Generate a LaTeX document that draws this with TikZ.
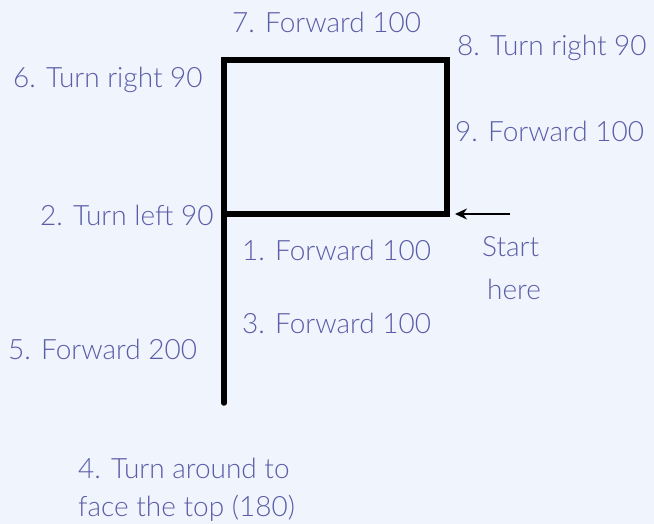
\documentclass[tikz,border=0pt]{standalone}
\usepackage{fontspec}
\setmainfont{Lato Light}
\usetikzlibrary{arrows.meta}
\definecolor{bg}{HTML}{F0F4FC}
\definecolor{txt}{HTML}{5A5EA8}
\begin{document}
\begin{tikzpicture}[x=1pt,y=-1pt,
  lbl/.style={anchor=west,inner sep=0pt,text=txt,font=\fontsize{28}{31}\selectfont},
  path/.style={line width=5.5pt,black,line join=miter},
  startarrow/.style={line width=2.8pt,-{Stealth[length=12pt,width=11pt]}}]
\fill[bg] (0,0) rectangle (654,524);
\useasboundingbox (0,0) rectangle (654,524);
\coordinate (A) at (224,60);
\coordinate (B) at (447,60);
\coordinate (C) at (447,214);
\coordinate (D) at (224,214);
\coordinate (E) at (224,403);
\coordinate (S) at (510,214);
\coordinate (T) at (455,214);
\draw[path] (D) -- (A) -- (B) -- (C) -- (D);
\draw[path,line cap=round] (D) -- (E);
\draw[startarrow] (S) -- (T);
\node[lbl] (n7) at (232,22) {7. Forward 100};
\node[lbl] (n8) at (457,48) {8. Turn right 90};
\node[lbl] (n6) at (13,80) {6. Turn right 90};
\node[lbl] (n9) at (455,131) {9. Forward 100};
\node[lbl] (n2) at (40,215) {2. Turn left 90};
\node[lbl] (n1) at (242,250) {1. Forward 100};
\node[lbl] (st) at (482,247) {Start};
\node[lbl] (he) at (487,289) {here};
\node[lbl] (n3) at (242,323) {3. Forward 100};
\node[lbl] (n5) at (8,349) {5. Forward 200};
\node[lbl] (n4a) at (78,468) {4. Turn around to};
\node[lbl] (n4b) at (78,508) {face the top (180)};
\end{tikzpicture}
\end{document}
